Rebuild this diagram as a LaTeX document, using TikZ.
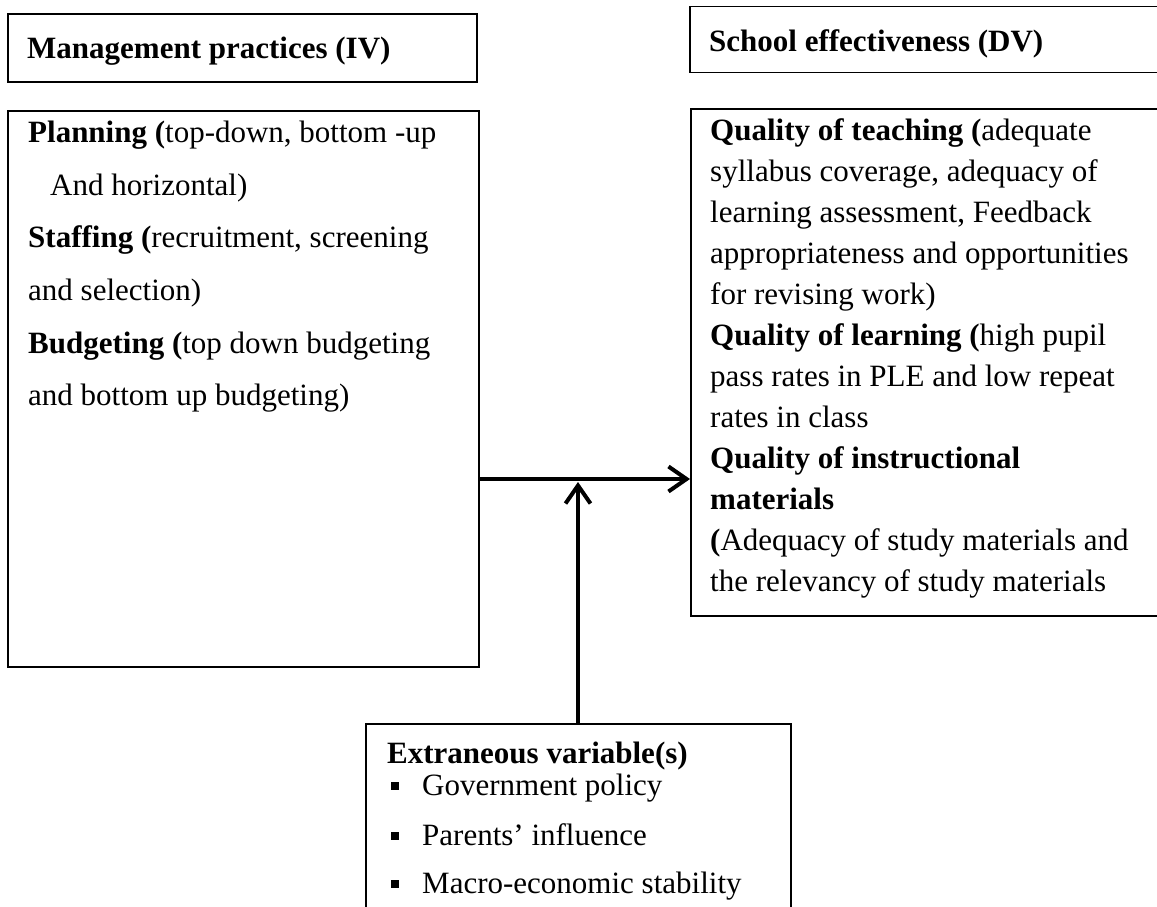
\documentclass[tikz,border=0pt]{standalone}
\usepackage{fontspec}
\setmainfont{Liberation Serif}
\usetikzlibrary{arrows.meta}
\begin{document}
\begin{tikzpicture}[x=1pt,y=-1pt,
  box/.style={draw, line width=1.8pt, anchor=north west, inner sep=0pt},
  ln/.style={anchor=base west, inner sep=0pt, font=\fontsize{31}{31}\selectfont},
  arr/.style={line width=4pt, -{Straight Barb[length=18pt,width=25pt,line width=4pt]}},
  bul/.style={fill, draw=none, minimum size=8pt, inner sep=0pt}]
\clip (0,0) rectangle (1157,906);
\fill[white] (0,0) rectangle (1157,906);
% boxes
\node[box, minimum width=469pt, minimum height=68pt] (lhead) at (7,13) {};
\node[box, minimum width=500pt, minimum height=66pt] (rhead) at (689,5.5) {};
\node[box, minimum width=471pt, minimum height=556pt] (lmain) at (7,110) {};
\node[box, minimum width=500pt, minimum height=507pt] (rmain) at (690,108) {};
\node[box, minimum width=425pt, minimum height=260pt] (ext) at (365,723) {};
% header texts
\node[ln] (lht) at (27,58) {\textbf{Management practices (IV)}};
\node[ln] (rht) at (709,51) {\textbf{School effectiveness (DV)}};
% left box text
\node[ln] (l1) at (28,142) {\textbf{Planning (}top-down, bottom -up};
\node[ln] (l2) at (50,195) {And horizontal)};
\node[ln] (l3) at (28,247) {\textbf{Staffing (}recruitment, screening};
\node[ln] (l4) at (28,300) {and selection)};
\node[ln] (l5) at (28,353) {\textbf{Budgeting (}top down budgeting};
\node[ln] (l6) at (28,405) {and bottom up budgeting)};
% right box text
\node[ln] (r1) at (710,140) {\textbf{Quality of teaching (}adequate};
\node[ln] (r2) at (710,181) {syllabus coverage, adequacy of};
\node[ln] (r3) at (710,222) {learning assessment, Feedback};
\node[ln] (r4) at (710,263) {appropriateness and opportunities};
\node[ln] (r5) at (710,304) {for revising work)};
\node[ln] (r6) at (710,345) {\textbf{Quality of learning (}high pupil};
\node[ln] (r7) at (710,386) {pass rates in PLE and low repeat};
\node[ln] (r8) at (710,427) {rates in class};
\node[ln] (r9) at (710,468) {\textbf{Quality of instructional}};
\node[ln] (r10) at (710,509) {\textbf{materials}};
\node[ln] (r11) at (710,550) {\textbf{(}Adequacy of study materials and};
\node[ln] (r12) at (710,591) {the relevancy of study materials};
% extraneous box text
\node[ln] (e0) at (387,763) {\textbf{Extraneous variable(s)}};
\node[bul] (b1) at (395,786) {};
\node[ln] (e1) at (422,795) {Government policy};
\node[bul] (b2) at (395,836) {};
\node[ln] (e2) at (422,845) {Parents’ influence};
\node[bul] (b3) at (395,884) {};
\node[ln] (e3) at (422,893) {Macro-economic stability};
% connectors
\coordinate (hy) at (0,479);
\coordinate (vx) at (578,482);
\draw[arr] (lmain.east |- hy) -- (rmain.west |- hy);
\draw[arr] (ext.north -| vx) -- (vx);
\end{tikzpicture}
\end{document}
